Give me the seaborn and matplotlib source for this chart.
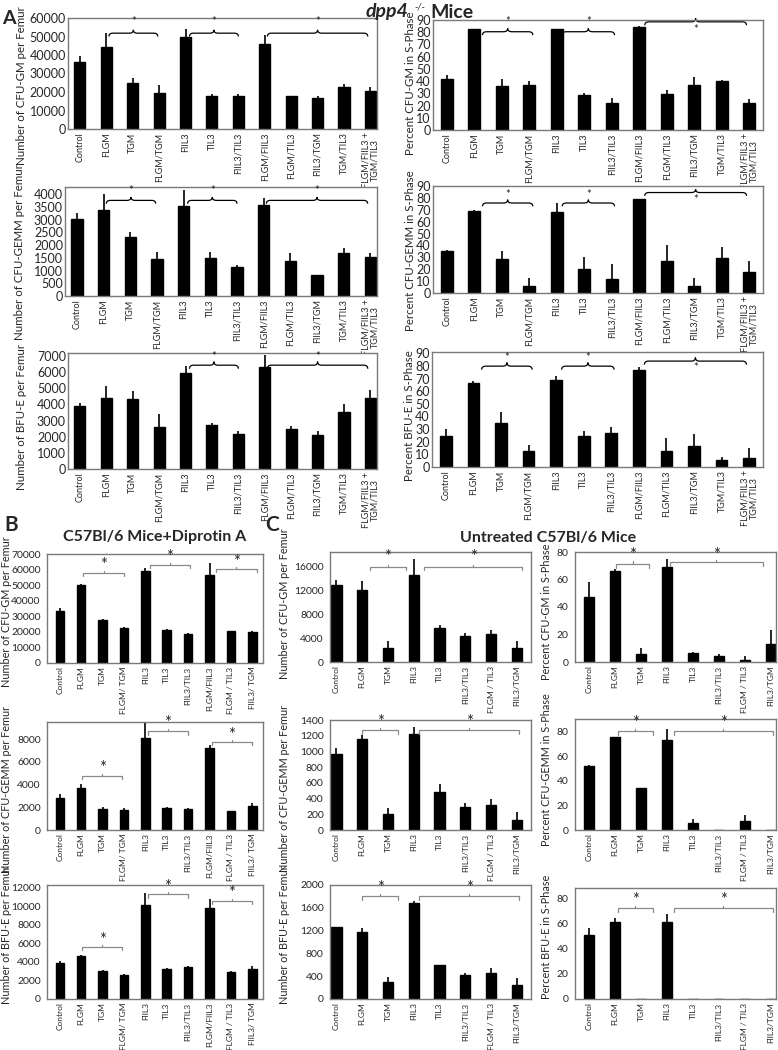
import numpy as np
import matplotlib
matplotlib.use("Agg")
import matplotlib.pyplot as plt
from matplotlib.path import Path
from matplotlib.patches import PathPatch
import seaborn as sns

sns.set_theme(style="white")
plt.rcParams["font.family"] = ["Lato", "DejaVu Sans"]

# ---------------- data ----------------
a_labels = ["Control", "FLGM", "TGM", "FLGM/TGM", "FlIL3", "TIL3", "FlIL3/TIL3",
            "FLGM/FlIL3", "FLGM/TIL3", "FlIL3/TGM", "TGM/TIL3", "FLGM/FlIL3 +\nTGM/TIL3"]
b_labels = ["Control", "FLGM", "TGM", "FLGM/ TGM", "FlIL3", "TIL3", "FlIL3/TIL3",
            "FLGM/FlIL3", "FLGM / TIL3", "FlIL3/ TGM"]
c_labels = ["Control", "FLGM", "TGM", "FlIL3", "TIL3", "FlIL3/TIL3", "FLGM / TIL3", "FlIL3/TGM"]

# panel A (dpp4 -/- mice)
a_gm = [36400, 44100, 24700, 19200, 49500, 17900, 17900, 46200, 17600, 16500, 22800, 20300]
a_gm_sd = [3000, 8000, 2700, 4500, 4300, 900, 900, 4800, 400, 1100, 1400, 2300]
a_gm_pct = [41.7, 82.3, 35.6, 36.7, 82.3, 28.5, 22.4, 84.3, 29.6, 36.7, 39.8, 22.4]
a_gm_pct_sd = [3.6, 0, 6.4, 3.6, 0.6, 1.6, 4.1, 0.6, 3.5, 6.9, 1.1, 3.3]
a_gemm = [3016, 3370, 2295, 1443, 3528, 1482, 1128, 3554, 1390, 813, 1705, 1534]
a_gemm_sd = [236, 643, 197, 288, 642, 249, 79, 276, 289, 20, 184, 145]
a_gemm_pct = [35.5, 69, 28.3, 5.8, 68, 19.8, 11.8, 78.7, 26.7, 5.8, 29.2, 17.6]
a_gemm_pct_sd = [0.8, 0.5, 6.7, 6.6, 7.7, 10.2, 12.4, 0.6, 13.8, 6.6, 9.8, 9.1]
a_bfue = [3922, 4394, 4312, 2587, 5975, 2710, 2197, 6324, 2485, 2094, 3532, 4415]
a_bfue_sd = [144, 739, 513, 801, 411, 144, 185, 719, 184, 267, 513, 451]
a_bfue_pct = [24.9, 66.4, 35.1, 12.9, 69.1, 24.9, 27.1, 77.1, 12.9, 16.6, 5.6, 7.2]
a_bfue_pct_sd = [5.4, 1.6, 8.3, 4.5, 3.0, 3.2, 4.2, 2.2, 9.9, 9.4, 2.2, 8.1]

# panel B (C57Bl/6 + Diprotin A)
b_gm = [33700, 50000, 27800, 22500, 59400, 21000, 18700, 56600, 20600, 19900]
b_gm_sd = [1700, 900, 300, 300, 1300, 800, 800, 7300, 200, 900]
b_gemm = [2800, 3700, 1850, 1770, 8090, 1910, 1820, 7180, 1650, 2150]
b_gemm_sd = [380, 320, 150, 150, 1320, 120, 80, 320, 50, 260]
b_bfue = [3900, 4600, 3000, 2600, 10100, 3200, 3400, 9800, 2900, 3200]
b_bfue_sd = [250, 150, 150, 100, 1300, 150, 200, 1000, 100, 400]

# panel C (untreated C57Bl/6)
c_gm = [13000, 12100, 2360, 14700, 5780, 4380, 4660, 2360]
c_gm_sd = [800, 1500, 1180, 2600, 450, 500, 790, 1180]
c_gm_pct = [47.3, 66, 5.7, 69, 6.2, 4.2, 1.7, 13]
c_gm_pct_sd = [11.1, 1.7, 4.2, 6.1, 1.2, 1.5, 3.0, 10.4]
c_gemm = [965, 1155, 198, 1219, 487, 293, 323, 129]
c_gemm_sd = [78, 51, 78, 95, 103, 52, 73, 99]
c_gemm_pct = [52, 75.2, 34.1, 72.8, 5.3, 0.3, 7.2, 0.3]
c_gemm_pct_sd = [1, 0.5, 0.3, 9.1, 4.0, 0, 4.8, 0]
c_bfue = [1260, 1180, 290, 1680, 590, 420, 460, 240]
c_bfue_sd = [10, 60, 100, 40, 10, 30, 80, 120]
c_bfue_pct = [51, 61, 0.3, 61, 0.3, 0.3, 0.3, 0.3]
c_bfue_pct_sd = [5, 3, 0, 6, 0, 0, 0, 0]

# ---------------- figure ----------------
W, H = 778, 1050
fig = plt.figure(figsize=(W / 100, H / 100), dpi=100)


def add(l, t, r, b):
    return fig.add_axes([l / W, 1 - b / H, (r - l) / W, (b - t) / H])


def panel(ax, labels, vals, sds, ylim, yticks, ylabel, xlim, width, tfs, lfs, xfs, ticklen, lab_xy):
    sns.barplot(x=labels, y=vals, color="black", width=width, saturation=1,
                edgecolor="black", ax=ax)
    x = np.arange(len(vals))
    v = np.array(vals)
    ax.vlines(x, v, v + np.array(sds), color="black", lw=1.2, zorder=3)
    ax.set_ylim(*ylim)
    ax.set_xlim(*xlim)
    ax.set_yticks(yticks)
    ax.set_yticklabels([str(t) for t in yticks], fontsize=tfs)
    ax.set_xticks(x)
    ax.set_xticklabels(labels, rotation=90, fontsize=xfs, linespacing=0.9)
    ax.set_ylabel(ylabel, fontsize=lfs)
    ax.yaxis.set_label_coords(*lab_xy)
    ax.set_xlabel("")
    ax.tick_params(axis="y", length=ticklen, width=0.8, color="#555555", pad=1.5)
    ax.tick_params(axis="x", length=0, pad=2.5)
    for s in ax.spines.values():
        s.set_color("#7a7a7a")
        s.set_linewidth(1.0)


def brace(ax, x1, x2, y, ys, dy, e=0.15):
    xm = (x1 + x2) / 2
    verts = [(x1, y - dy), (x1, y), (x1 + e, y), (xm - e, y), (xm, y), (xm, y + dy),
             (xm, y), (xm + e, y), (x2 - e, y), (x2, y), (x2, y - dy)]
    codes = [Path.MOVETO, Path.CURVE3, Path.CURVE3, Path.LINETO, Path.CURVE3, Path.CURVE3,
             Path.CURVE3, Path.CURVE3, Path.LINETO, Path.CURVE3, Path.CURVE3]
    ax.add_patch(PathPatch(Path(verts, codes), fill=False, lw=0.9, color="black", clip_on=False))
    ax.text(xm, ys, "*", ha="center", va="center", fontsize=8, clip_on=False)


def bracket(ax, x1, x2, y, ys, dy):
    xm = (x1 + x2) / 2
    ax.plot([x1, x1, x2, x2], [y - dy, y, y, y - dy], color="#8a8a8a", lw=0.9, clip_on=False)
    ax.plot([xm, xm], [y, y + dy * 0.6], color="#8a8a8a", lw=0.9, clip_on=False)
    ax.text(xm, ys, "*", ha="center", va="center", fontsize=12, clip_on=False)


# ---- Panel A ----
a_xl_left = (-0.45, 11.25)
a_xl_right = (-0.5, 11.5)
pct_ticks = list(range(0, 100, 10))
A_T, A_L, A_X = 9, 8.3, 6.5

ax = add(68, 18, 377, 129)
panel(ax, a_labels, a_gm, a_gm_sd, (0, 60000), list(range(0, 70000, 10000)),
      "Number of CFU-GM per Femur", a_xl_left, 0.42, A_T, A_L, A_X, 0, (-0.133, 0.39))
for x1, x2 in [(1.1, 2.95), (4.15, 6.0), (7.1, 10.9)]:
    brace(ax, x1, x2, 51800, 58000, 1800)

ax = add(433, 20, 763, 130)
panel(ax, a_labels, a_gm_pct, a_gm_pct_sd, (0, 90), pct_ticks,
      "Percent CFU-GM in S-Phase", a_xl_right, 0.42, A_T, A_L, A_X, 0, (-0.052, 0.43))
brace(ax, 1.3, 3.13, 80.4, 89, 2.8)
brace(ax, 4.2, 6.1, 80.4, 89, 2.8)
brace(ax, 7.2, 10.9, 88.5, 82, 2.8)

ax = add(65, 187, 377, 296)
panel(ax, a_labels, a_gemm, a_gemm_sd, (0, 4275), list(range(0, 4500, 500)),
      "Number of CFU-GEMM per Femur", a_xl_left, 0.42, A_T, A_L, A_X, 0, (-0.128, 0.40))
for x1, x2 in [(1.1, 2.95), (4.15, 6.0), (7.1, 10.9)]:
    brace(ax, x1, x2, 3750, 4140, 130)

ax = add(433, 186, 763, 293)
panel(ax, a_labels, a_gemm_pct, a_gemm_pct_sd, (0, 90), pct_ticks,
      "Percent CFU-GEMM in S-Phase", a_xl_right, 0.42, A_T, A_L, A_X, 0, (-0.052, 0.40))
brace(ax, 1.3, 3.13, 75.7, 83, 2.8)
brace(ax, 4.2, 6.1, 75.7, 83, 2.8)
brace(ax, 7.2, 10.9, 84.5, 78.5, 2.8)

ax = add(68, 353, 377, 469)
panel(ax, a_labels, a_bfue, a_bfue_sd, (0, 7185), list(range(0, 8000, 1000)),
      "Number of BFU-E per Femur", a_xl_left, 0.42, A_T, A_L, A_X, 0, (-0.133, 0.45))
for x1, x2 in [(4.15, 6.0), (7.1, 10.9)]:
    brace(ax, x1, x2, 6430, 6980, 220)

ax = add(432, 352, 763, 467)
panel(ax, a_labels, a_bfue_pct, a_bfue_pct_sd, (0, 91), pct_ticks,
      "Percent BFU-E in S-Phase", a_xl_right, 0.42, A_T, A_L, A_X, 0, (-0.052, 0.45))
brace(ax, 1.3, 3.13, 79.8, 87, 2.8)
brace(ax, 4.2, 6.1, 79.8, 87, 2.8)
brace(ax, 7.2, 10.9, 83.8, 78.5, 2.8)

# ---- Panel B ----
b_xl = (-0.6, 9.5)
B_T, B_L, B_X = 7.5, 7.8, 6.0
ax = add(47, 554, 263, 663)
panel(ax, b_labels, b_gm, b_gm_sd, (0, 70000), list(range(0, 80000, 10000)),
      "Number of CFU-GM per Femur", b_xl, 0.4, B_T, B_L, B_X, 3, (-0.16, 0.47))
bracket(ax, 1.1, 3.0, 58100, 63000, 2000)
bracket(ax, 4.2, 6.1, 63000, 67900, 2000)
bracket(ax, 7.3, 9.2, 60200, 65000, 2000)

ax = add(47, 722, 263, 830)
panel(ax, b_labels, b_gemm, b_gemm_sd, (0, 9500), list(range(0, 10000, 2000)),
      "Number of CFU-GEMM per Femur", b_xl, 0.4, B_T, B_L, B_X, 3, (-0.16, 0.38))
bracket(ax, 1.05, 2.9, 4765, 5440, 280)
bracket(ax, 4.1, 6.0, 8680, 9400, 280)
bracket(ax, 7.1, 9.0, 7735, 8380, 280)

ax = add(47, 885, 263, 999)
panel(ax, b_labels, b_bfue, b_bfue_sd, (0, 12300), list(range(0, 14000, 2000)),
      "Number of BFU-E per Femur", b_xl, 0.4, B_T, B_L, B_X, 3, (-0.16, 0.56))
bracket(ax, 1.05, 2.9, 5600, 6400, 360)
bracket(ax, 4.1, 6.0, 11300, 12100, 360)
bracket(ax, 7.1, 9.0, 10600, 11400, 360)

# ---- Panel C ----
cl_xl = (-0.25, 7.55)
cr_xl = (-0.55, 7.2)
ax = add(330, 552, 531, 662)
panel(ax, c_labels, c_gm, c_gm_sd, (0, 18500), list(range(0, 20000, 4000)),
      "Number of CFU-GM per Femur", cl_xl, 0.4, B_T, B_L, B_X, 3, (-0.2, 0.53))
bracket(ax, 1.3, 2.7, 16000, 17600, 600)
bracket(ax, 3.4, 7.2, 16000, 17600, 600)

ax = add(575, 552, 776, 662)
panel(ax, c_labels, c_gm_pct, c_gm_pct_sd, (0, 80), list(range(0, 100, 20)),
      "Percent CFU-GM in S-Phase", cr_xl, 0.4, B_T, B_L, B_X, 3, (-0.115, 0.46))
bracket(ax, 1.05, 2.3, 71.4, 78, 3)
bracket(ax, 3.1, 6.7, 72.7, 78, 3)

ax = add(330, 720, 531, 830)
panel(ax, c_labels, c_gemm, c_gemm_sd, (0, 1400), list(range(0, 1600, 200)),
      "Number of CFU-GEMM per Femur", cl_xl, 0.4, B_T, B_L, B_X, 3, (-0.2, 0.38))
bracket(ax, 1.0, 2.4, 1271, 1379, 45)
bracket(ax, 3.2, 7.1, 1271, 1379, 45)

ax = add(575, 719, 776, 830)
panel(ax, c_labels, c_gemm_pct, c_gemm_pct_sd, (0, 90), list(range(0, 100, 20)),
      "Percent CFU-GEMM in S-Phase", cr_xl, 0.4, B_T, B_L, B_X, 3, (-0.115, 0.54))
bracket(ax, 1.1, 2.45, 80, 86.7, 3)
bracket(ax, 3.25, 7.1, 80, 86.7, 3)

ax = add(330, 885, 531, 999)
panel(ax, c_labels, c_bfue, c_bfue_sd, (0, 2000), list(range(0, 2400, 400)),
      "Number of BFU-E per Femur", cl_xl, 0.4, B_T, B_L, B_X, 3, (-0.2, 0.56))
bracket(ax, 1.0, 2.4, 1800, 1950, 65)
bracket(ax, 3.2, 7.1, 1800, 1950, 65)

ax = add(575, 888, 776, 999)
panel(ax, c_labels, c_bfue_pct, c_bfue_pct_sd, (0, 88), list(range(0, 100, 20)),
      "Percent BFU-E in S-Phase", cr_xl, 0.4, B_T, B_L, B_X, 3, (-0.115, 0.56))
bracket(ax, 1.1, 2.45, 72, 78.5, 3)
bracket(ax, 3.25, 7.1, 72, 78.5, 3)

# ---- titles and panel letters ----
fig.text(408 / W, 1 - 12 / H, "dpp4", ha="right", va="center", fontsize=14,
         fontweight="bold", style="italic")
fig.text(414 / W, 1 - 7 / H, "-/-", ha="left", va="center", fontsize=7, style="italic")
fig.text(430 / W, 1 - 12 / H, "Mice", ha="left", va="center", fontsize=14, fontweight="bold")
fig.text(2 / W, 1 - 19 / H, "A", ha="left", va="center", fontsize=14, fontweight="bold")
fig.text(4 / W, 1 - 525 / H, "B", ha="left", va="center", fontsize=15, fontweight="bold")
fig.text(265 / W, 1 - 525 / H, "C", ha="left", va="center", fontsize=15, fontweight="bold")
fig.text(155 / W, 1 - 537 / H, "C57Bl/6 Mice+Diprotin A", ha="center", va="center",
         fontsize=11.5, fontweight="bold")
fig.text(548 / W, 1 - 538 / H, "Untreated C57Bl/6 Mice", ha="center", va="center",
         fontsize=11.5, fontweight="bold")

fig.savefig("out.png", dpi=100)
